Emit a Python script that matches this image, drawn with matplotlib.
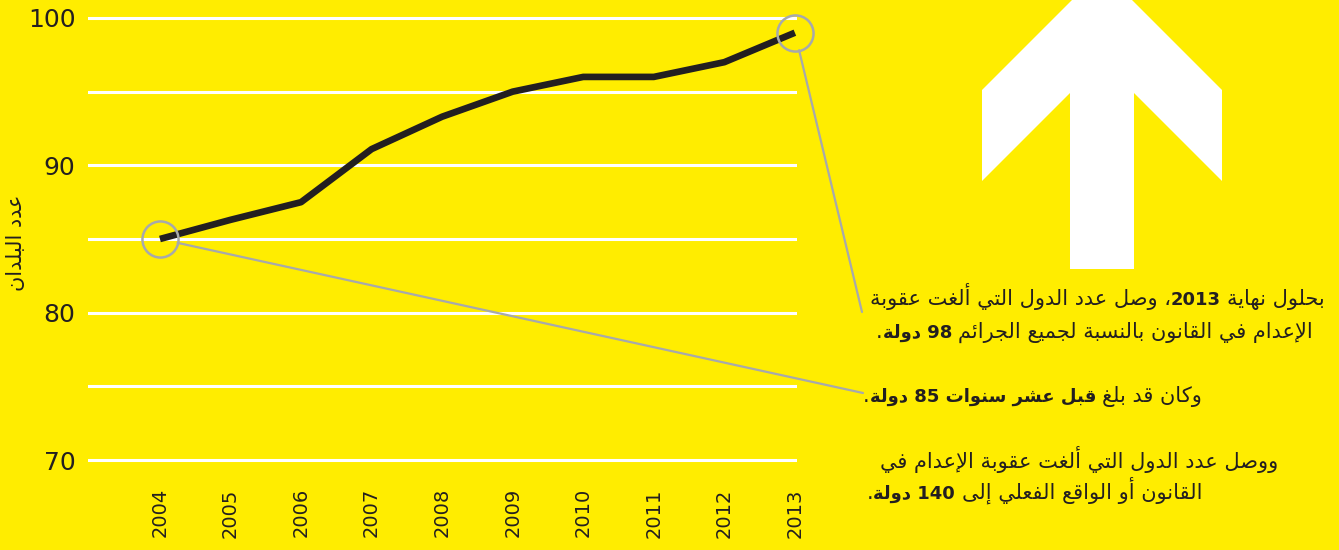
import re

import matplotlib
matplotlib.use('Agg')
import matplotlib.pyplot as plt
from matplotlib.patches import Polygon


# Data

years = [2004, 2005, 2006, 2007, 2008, 2009, 2010, 2011, 2012, 2013]
countries = [85, 86.3, 87.5, 91.1, 93.3, 95, 96, 96, 97, 99]
y_ticks = [70, 80, 90, 100]
grid_levels = [70, 75, 80, 85, 90, 95, 100]
marked_years = [2004, 2013]
marked_values = [85, 99]
y_label = 'عدد البلدان'

# (text, bold) pieces, logical (right-to-left) order
note_2013 = [
    [('بحلول نهاية ', False), ('2013', True), ('، وصل عدد الدول التي ألغت عقوبة', False)],
    [('الإعدام في القانون بالنسبة لجميع الجرائم ', False), ('98 دولة', True), ('.', False)],
]
note_2004 = [
    [('وكان قد بلغ ', False), ('قبل عشر سنوات 85 دولة', True), ('.', False)],
]
note_total = [
    [('ووصل عدد الدول التي ألغت عقوبة الإعدام في', False)],
    [('القانون أو الواقع الفعلي إلى ', False), ('140 دولة', True), ('.', False)],
]

W, H = 1339, 550
YELLOW = '#ffed00'
INK = '#231f20'
GREY = '#a7a9ac'

# Arabic shaping (matplotlib has no complex text layout)

RIGHT_ONLY = dict(zip('آأؤإاةدذرزوى', [0xFE81, 0xFE83, 0xFE85, 0xFE87, 0xFE8D, 0xFE93,
                                        0xFEA9, 0xFEAB, 0xFEAD, 0xFEAF, 0xFEED, 0xFEEF]))
DUAL = dict(zip('ئبتثجحخسشصضطظعغفقكلمنهي',
                [0xFE89, 0xFE8F, 0xFE95, 0xFE99, 0xFE9D, 0xFEA1, 0xFEA5, 0xFEB1,
                 0xFEB5, 0xFEB9, 0xFEBD, 0xFEC1, 0xFEC5, 0xFEC9, 0xFECD, 0xFED1,
                 0xFED5, 0xFED9, 0xFEDD, 0xFEE1, 0xFEE5, 0xFEE9, 0xFEF1]))
LAM_ALEF = {'آ': 0xFEF5, 'أ': 0xFEF7, 'إ': 0xFEF9, 'ا': 0xFEFB}


def rtl(s):
    out = []
    i = 0
    while i < len(s):
        c = s[i]
        prev = s[i - 1] if i > 0 else ''
        nxt = s[i + 1] if i + 1 < len(s) else ''
        jp = prev in DUAL
        if c == 'ل' and nxt in LAM_ALEF:
            out.append(chr(LAM_ALEF[nxt] + jp))
            i += 2
            continue
        if c in DUAL:
            jn = nxt in DUAL or nxt in RIGHT_ONLY
            form = 3 if (jp and jn) else 1 if jp else 2 if jn else 0
            out.append(chr(DUAL[c] + form))
        elif c in RIGHT_ONLY:
            out.append(chr(RIGHT_ONLY[c] + jp))
        else:
            out.append(c)
        i += 1
    tokens = re.findall(r'[0-9]+|[^0-9]+', ''.join(out))
    return ''.join(t if t.isdigit() else t[::-1] for t in reversed(tokens))


fig = plt.figure(figsize=(W / 100, H / 100), dpi=100, facecolor=YELLOW)
ax = fig.add_axes([88 / W, 1 - 467.4 / H, 709 / W, 456.8 / H])
ax.set_facecolor(YELLOW)

for g in grid_levels:
    ax.axhline(g, color='white', lw=2.2, zorder=1)

ax.plot(years, countries, color=INK, lw=4.8, solid_capstyle='butt', zorder=3, clip_on=False)
ax.plot(marked_years, marked_values, 'o', ms=26, mfc='none', mec=GREY, mew=1.8, zorder=4,
        clip_on=False)

ax.set_xlim(2002.98, 2013.03)
ax.set_ylim(69.5, 100.5)
ax.set_xticks(years)
ax.set_xticklabels([str(y) for y in years], rotation=90, fontsize=14, color=INK)
ax.set_yticks(y_ticks)
ax.set_yticklabels([str(v) for v in y_ticks], fontsize=18, color=INK)
ax.tick_params(length=0)
ax.tick_params(axis='x', pad=15)
ax.tick_params(axis='y', pad=9)
for s in ax.spines.values():
    s.set_visible(False)

fig.text(16 / W, 1 - 243 / H, rtl(y_label), rotation=90, fontsize=15, color=INK,
         ha='center', va='center')

# Leader lines from the circles to the notes
ax.annotate('', xy=(862, H - 312), xycoords='figure pixels', xytext=(2013, 99),
            textcoords='data', arrowprops=dict(arrowstyle='-', color=GREY, lw=1.6,
                                               shrinkA=13, shrinkB=0))
ax.annotate('', xy=(863, H - 393), xycoords='figure pixels', xytext=(2004, 85),
            textcoords='data', arrowprops=dict(arrowstyle='-', color=GREY, lw=1.6,
                                               shrinkA=13, shrinkB=0))

# Big arrow
arrow = [(1102, -30), (982, 90), (982, 181), (1070, 93), (1070, 269), (1134, 269),
         (1134, 93), (1222, 181), (1222, 90)]
fig.patches.append(Polygon([(x / W, 1 - y / H) for x, y in arrow], closed=True,
                           facecolor='white', edgecolor='none',
                           transform=fig.transFigure, figure=fig))

# Notes, placed right to left piece by piece
renderer = fig.canvas.get_renderer()
FS = 15
FS_BOLD = 13
GAP = 0.3 * FS * 100 / 72


def draw_line(pieces, x_right, y):
    x = x_right
    for text, bold in pieces:
        if text.startswith(' '):
            x -= GAP
        t = fig.text(x / W, 1 - y / H, rtl(text.strip()), color=INK,
                     fontsize=FS_BOLD if bold else FS,
                     fontweight='bold' if bold else 'normal', ha='right', va='baseline')
        x -= t.get_window_extent(renderer).width
        if text.endswith(' '):
            x -= GAP


draw_line(note_2013[0], 1325, 305)
draw_line(note_2013[1], 1313, 338)
draw_line(note_2004[0], 1202, 402)
draw_line(note_total[0], 1278, 468)
draw_line(note_total[1], 1202, 499)

fig.savefig('out.png', dpi=100, facecolor=YELLOW)
